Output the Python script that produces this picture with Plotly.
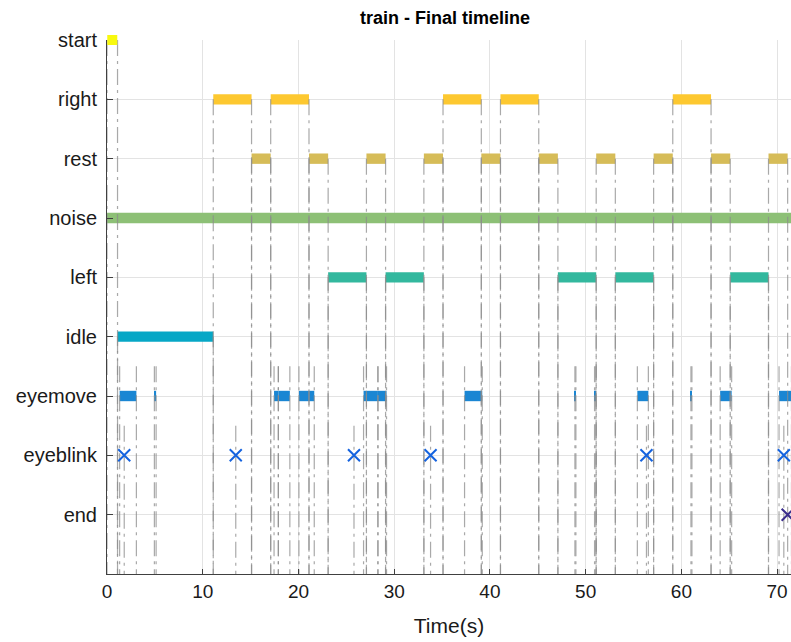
import plotly.graph_objects as go

# ---- data (seconds) ----
categories = ["end", "eyeblink", "eyemove", "idle", "left", "noise", "rest", "right", "start"]

start_starts = [0.0]
start_ends = [1.1]
right_starts = [11.1, 17.1, 35.1, 41.1, 59.1]
right_ends = [15.1, 21.1, 39.1, 45.1, 63.1]
rest_starts = [15.1, 21.1, 27.1, 33.1, 39.1, 45.1, 51.1, 57.1, 63.1, 69.1]
rest_ends = [17.1, 23.1, 29.1, 35.1, 41.1, 47.1, 53.1, 59.1, 65.1, 71.1]
noise_starts = [0.0]
noise_ends = [71.5]
left_starts = [23.1, 29.1, 47.1, 53.1, 65.1]
left_ends = [27.1, 33.1, 51.1, 57.1, 69.1]
idle_starts = [1.1]
idle_ends = [11.1]
eyemove_starts = [1.32, 4.95, 17.45, 17.9, 20.05, 26.8, 28.3, 37.35, 48.88, 50.93, 55.4, 61.0, 64.05, 70.2]
eyemove_ends = [3.07, 5.13, 17.9, 19.1, 21.65, 28.3, 29.2, 39.2, 48.98, 51.07, 56.55, 61.1, 65.25, 71.5]
eyeblink_times = [1.8, 13.45, 25.8, 33.8, 56.35, 70.7]
end_times = [71.1]

x_ticks = [0, 10, 20, 30, 40, 50, 60, 70]

colors = {
    "start": "#F8F90F",
    "right": "#FDC830",
    "rest": "#D6BC58",
    "noise": "#8DC076",
    "left": "#33B89E",
    "idle": "#06A7C6",
    "eyemove": "#1A86D3",
    "eyeblink": "#1563DF",
    "end": "#3B2D8C",
}

level = {c: i + 1 for i, c in enumerate(categories)}

intervals = {
    "start": (start_starts, start_ends),
    "right": (right_starts, right_ends),
    "rest": (rest_starts, rest_ends),
    "noise": (noise_starts, noise_ends),
    "left": (left_starts, left_ends),
    "idle": (idle_starts, idle_ends),
    "eyemove": (eyemove_starts, eyemove_ends),
}

# vertical dash-dot guide lines: from event row down to the axis
line_top = {"start": 9, "right": 8, "rest": 7, "left": 5, "idle": 4, "eyemove": 3.5, "eyeblink": 2.5}

fig = go.Figure()

vx, vy = [], []
for name, (s_list, e_list) in intervals.items():
    if name == "noise":
        continue
    top = line_top[name]
    for t in list(s_list) + list(e_list):
        vx += [t, t, None]
        vy += [top, 0, None]
for t in eyeblink_times:
    vx += [t, t, None]
    vy += [line_top["eyeblink"], 0, None]

fig.add_trace(go.Scatter(
    x=vx, y=vy, mode="lines",
    line=dict(color="rgba(140,140,140,0.75)", width=1.2, dash="16px,5px,3px,5px"),
    hoverinfo="skip", showlegend=False,
))

for name, (s_list, e_list) in intervals.items():
    if name == "start":
        continue
    fig.add_trace(go.Bar(
        orientation="h",
        base=s_list,
        x=[e - s for s, e in zip(s_list, e_list)],
        y=[level[name]] * len(s_list),
        width=0.175,
        marker=dict(color=colors[name], line=dict(width=0)),
        showlegend=False,
    ))

# start event sits on the top border: drawn as an unclipped square marker at its interval centre
fig.add_trace(go.Scatter(
    x=[(s + e) / 2 for s, e in zip(start_starts, start_ends)],
    y=[level["start"]] * len(start_starts), mode="markers",
    marker=dict(symbol="square", size=10, color=colors["start"], line=dict(width=0)),
    cliponaxis=False, showlegend=False,
))

fig.add_trace(go.Scatter(
    x=eyeblink_times, y=[level["eyeblink"]] * len(eyeblink_times), mode="markers",
    marker=dict(symbol="x-thin", size=12, line=dict(color=colors["eyeblink"], width=2)),
    showlegend=False,
))
fig.add_trace(go.Scatter(
    x=end_times, y=[level["end"]] * len(end_times), mode="markers",
    marker=dict(symbol="x-thin", size=12, line=dict(color=colors["end"], width=2)),
    showlegend=False,
))

font_family = "Liberation Sans, Arial, sans-serif"
fig.update_layout(
    width=791, height=642,
    margin=dict(l=107, r=0, t=40, b=68, autoexpand=False),
    plot_bgcolor="white", paper_bgcolor="white",
    barmode="overlay",
    font=dict(family=font_family, size=17, color="#1a1a1a"),
    title=dict(text="<b>train - Final timeline</b>", x=(445 - 107) / 684, xref="paper", xanchor="center",
               y=1 - 18 / 642, yref="container", yanchor="middle",
               font=dict(size=18, color="black")),
    xaxis=dict(
        range=[0, 71.45], tickvals=x_ticks, ticktext=[str(v) for v in x_ticks],
        showgrid=True, gridcolor="#e3e3e3", gridwidth=1, automargin=False,
        zeroline=False, showline=True, linecolor="#404040", linewidth=1,
        ticks="inside", ticklen=5, tickcolor="#404040",
        title=dict(text="Time(s)", font=dict(size=21), standoff=17),
        tickfont=dict(size=19),
    ),
    yaxis=dict(
        range=[0, 9], tickvals=[level[c] for c in categories], ticktext=categories,
        showgrid=True, gridcolor="#e3e3e3", gridwidth=1, automargin=False,
        zeroline=False, showline=True, linecolor="#404040", linewidth=1,
        ticks="inside", ticklen=6, tickcolor="#404040",
        ticklabelstandoff=5,
        tickfont=dict(size=20),
    ),
)

# remove the default page margin so the figure fills the window exactly
fig.write_html(
    "out.html",
    config={"displayModeBar": False},
    post_script="document.body.style.margin='0';document.body.style.overflow='hidden';",
)
